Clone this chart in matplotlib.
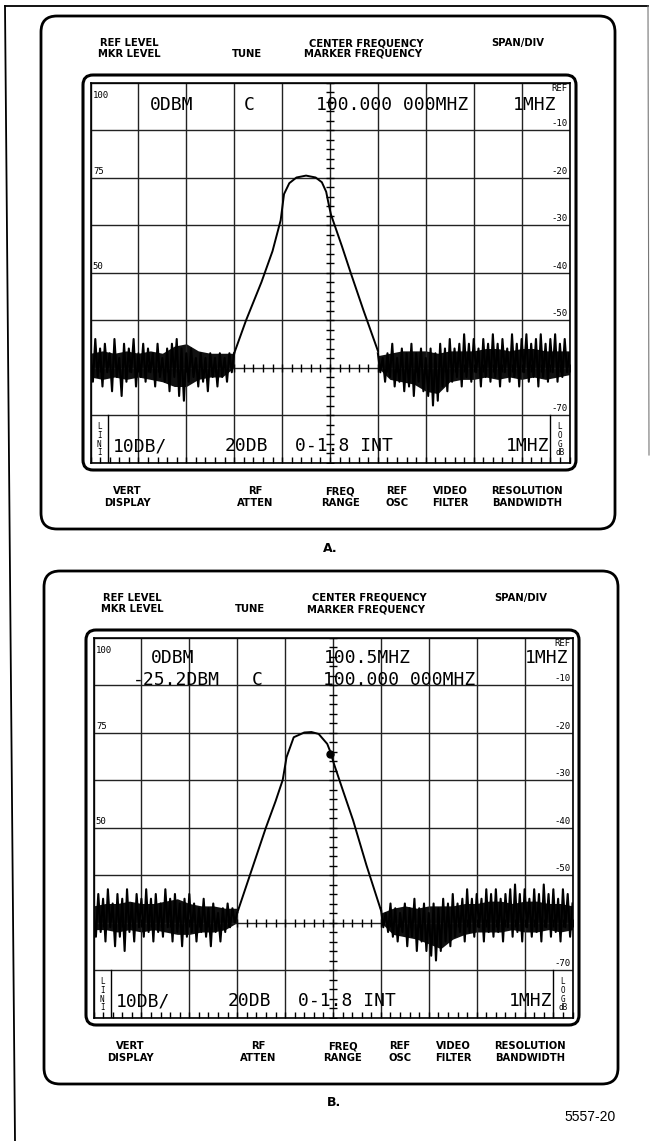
import numpy as np
import matplotlib
matplotlib.use("Agg")
import matplotlib.pyplot as plt
from matplotlib.patches import FancyBboxPatch

W, H = 653, 1141

# ---- trace data: x in graticule divisions (0..10), y in dB below ref (0..-80) ----
sig_x_a = [3.00, 3.25, 3.57, 3.80, 3.97, 4.04, 4.15, 4.30, 4.50, 4.70, 4.83, 4.92, 4.97, 5.02, 5.25, 5.43, 5.70, 6.00]
sig_db_a = [-57.0, -50.0, -42.0, -35.5, -29.0, -23.5, -21.2, -20.0, -19.6, -20.0, -21.0, -23.0, -25.5, -27.8, -34.5, -40.0, -48.0, -56.5]

sig_x_b = [3.00, 3.30, 3.60, 3.80, 3.95, 4.03, 4.18, 4.40, 4.55, 4.70, 4.88, 4.95, 5.02, 5.20, 5.42, 5.70, 6.00]
sig_db_b = [-58.0, -49.0, -40.0, -34.5, -30.0, -25.2, -21.0, -20.0, -19.9, -20.3, -22.4, -24.2, -26.6, -32.0, -38.5, -48.0, -57.4]

marker_b = (4.94, -24.5)

# noise spikes, 0.05 div apart
noise_l_a = [-57, -63, -54, -62, -56, -64, -55, -61, -57, -65, -54, -62, -58, -66, -55, -63, -56, -61, -54, -64,
             -57, -62, -55, -63, -56, -61, -57, -64, -55, -62, -58, -63, -56, -65, -55, -62, -54, -66, -56, -67,
             -57, -63, -56, -62, -58, -64, -57, -63, -58, -65, -57, -62, -58, -64, -57, -62, -58, -63, -57, -61, -57]
noise_r_a = [-57, -61, -58, -63, -57, -62, -55, -64, -58, -63, -56, -65, -57, -64, -55, -66, -57, -63, -56, -65,
             -58, -66, -56, -68, -57, -67, -55, -64, -56, -65, -54, -63, -56, -62, -55, -64, -53, -62, -55, -63,
             -54, -61, -56, -64, -54, -62, -55, -63, -53, -62, -55, -64, -54, -61, -56, -63, -53, -62, -55, -64,
             -54, -61, -53, -63, -55, -62, -54, -64, -53, -62, -55, -63, -54, -61, -53, -63, -55, -62, -54, -61, -57]
noise_l_b = [-58, -63, -54, -62, -55, -64, -53, -61, -56, -65, -54, -63, -55, -66, -53, -62, -56, -64, -54, -61,
             -55, -63, -53, -62, -55, -64, -54, -62, -56, -63, -53, -61, -55, -64, -54, -62, -56, -65, -55, -63,
             -54, -62, -56, -64, -57, -62, -55, -63, -57, -65, -56, -62, -58, -64, -57, -62, -56, -61, -57, -60, -58]
noise_r_b = [-57, -61, -58, -62, -56, -63, -57, -64, -58, -62, -56, -65, -57, -63, -55, -66, -57, -64, -56, -66,
             -58, -67, -56, -68, -57, -66, -55, -64, -56, -65, -54, -63, -56, -62, -55, -64, -53, -62, -55, -63,
             -54, -61, -55, -64, -53, -62, -54, -63, -53, -62, -55, -64, -54, -61, -53, -63, -52, -62, -54, -64,
             -53, -61, -55, -63, -53, -62, -54, -64, -52, -61, -54, -63, -53, -62, -55, -64, -53, -61, -54, -63, -56]

# dense core of the noise band, 0.25 div apart
core_top_l_a = [-57, -56.5, -57, -56.5, -57, -56.5, -57, -55.5, -55, -56.5, -57, -57, -57]
core_bot_l_a = [-62, -62.5, -62, -62.5, -62, -62.5, -63, -64, -64, -62.5, -62, -62, -60]
core_top_r_a = [-57.5, -57, -56.5, -56.5, -56.5, -57, -56.5, -56.5, -56.5, -56, -56, -56.5, -56, -56, -56.5, -56.5, -56.5]
core_bot_r_a = [-60, -62.5, -63, -63.5, -65, -65.5, -63, -62.5, -62.5, -62, -62.5, -62, -62.5, -62, -62.5, -62, -61.5]
core_top_l_b = [-56.5, -56, -56, -55.5, -56, -56, -55.5, -55, -56, -56.5, -56.5, -57, -57]
core_bot_l_b = [-61.5, -61.5, -62, -61.5, -62, -61.5, -62, -62.5, -62.5, -62, -62, -61.5, -60]
core_top_r_b = [-58, -57, -56.5, -57, -56.5, -56.5, -56.5, -56, -56, -55.5, -55.5, -56, -55.5, -55.5, -56, -56, -56.5]
core_bot_r_b = [-60, -62.5, -63, -63.5, -64.5, -65.5, -63.5, -62.5, -62, -62, -62, -61.5, -62, -62, -61.5, -62, -61.5]

left_scale = ["100", "75", "50"]
right_scale = ["-10", "-20", "-30", "-40", "-50", "-70"]

top_labels = ["REF LEVEL", "MKR LEVEL", "TUNE", "CENTER FREQUENCY", "MARKER FREQUENCY", "SPAN/DIV"]
bottom_labels = ["VERT\nDISPLAY", "RF\nATTEN", "FREQ\nRANGE", "REF\nOSC", "VIDEO\nFILTER", "RESOLUTION\nBANDWIDTH"]
row_a = ["0DBM", "C", "100.000 000MHZ", "1MHZ"]
row_b1 = ["0DBM", "100.5MHZ", "1MHZ"]
row_b2 = ["-25.2DBM", "C", "100.000 000MHZ"]
bottom_row = ["10DB/", "20DB", "0-1.8 INT", "1MHZ"]

MONO = "DejaVu Sans Mono"

fig = plt.figure(figsize=(W / 100, H / 100), dpi=100)
bg = fig.add_axes([0, 0, 1, 1])
bg.set_xlim(0, W)
bg.set_ylim(H, 0)
bg.axis("off")

# page frame
bg.plot([5, 15], [6, H], color="black", lw=1.3)
bg.plot([5, 648], [6, 6], color="black", lw=1.3)
bg.plot([648, 649], [6, 455], color="#777777", lw=0.8)


def panel(dy, dx, sig_x, sig_db, nl, nr, cores, rows, marker=None):
    # outer case
    bg.add_patch(FancyBboxPatch((41 + dx, 16 + dy), 574, 513,
                                boxstyle="round,pad=0,rounding_size=16",
                                fc="none", ec="black", lw=2.0))
    # crt bezel
    bg.add_patch(FancyBboxPatch((83 + dx, 75 + dy), 493, 395,
                                boxstyle="round,pad=0,rounding_size=10",
                                fc="none", ec="black", lw=2.2))
    lab_font = dict(fontsize=7.2, fontweight="bold", family="DejaVu Sans", ha="center", va="center")
    tx = [129, 129, 247, 366, 363, 518]
    ty = [43, 54, 54, 43, 54, 43]
    for t, x, y in zip(top_labels, tx, ty):
        bg.text(x + dx, y + dy, t, **lab_font)
    bx = [127, 255, 340, 397, 450, 527]
    for t, x in zip(bottom_labels, bx):
        bg.text(x + dx, 497 + dy, t, linespacing=1.15, **lab_font)

    ax = fig.add_axes([(90.5 + dx) / W, 1 - (462.5 + dy) / H, 479 / W, 380 / H])
    ax.set_xlim(0, 10)
    ax.set_ylim(-80, 0)
    ax.set_xticks(range(11))
    ax.set_yticks(range(-80, 1, 10))
    ax.grid(True, color="#222222", lw=1.0)
    ax.tick_params(length=0, labelbottom=False, labelleft=False)
    for s in ax.spines.values():
        s.set_linewidth(1.2)

    # minor graticule ticks
    yt = np.arange(-80, 0.1, 2)
    ax.plot([5] * len(yt), yt, ls="none", marker="_", ms=6, mew=1.0, color="black")
    xt = np.arange(0, 10.01, 0.2)
    ax.plot(xt, [-60] * len(xt), ls="none", marker="|", ms=6, mew=1.0, color="black")
    ax.plot(xt, [-80] * len(xt), ls="none", marker=2, ms=4, mew=1.0, color="black", clip_on=False)

    # bottom row boxes
    ax.plot([0.36, 0.36], [-80, -70], color="black", lw=1.0)
    ax.plot([9.6, 9.6], [-80, -70], color="black", lw=1.0)
    ax.text(0.18, -75.2, "L\nI\nN\nI", fontsize=5.5, family=MONO, ha="center", va="center", linespacing=0.95)
    ax.text(9.8, -75.2, "L\nO\nG\ndB", fontsize=5.5, family=MONO, ha="center", va="center", linespacing=0.95)

    # scale annotations
    for t, yv in zip(left_scale, [0, -20, -40]):
        ax.text(0.05, yv - (1.8 if yv == 0 else -0.3), t, fontsize=6.5, family=MONO,
                ha="left", va="top" if yv == 0 else "bottom")
    ax.text(9.95, -0.3, "REF", fontsize=6.5, family=MONO, ha="right", va="top")
    for t in right_scale:
        ax.text(9.95, float(t) + 0.4, t, fontsize=6.5, family=MONO, ha="right", va="bottom")

    # trace: dense core + spikes + signal
    tl, bl, tr, br = cores
    ax.fill_between(np.linspace(0, 3, len(tl)), tl, bl, color="#111111", lw=0)
    ax.fill_between(np.linspace(6, 10, len(tr)), tr, br, color="#111111", lw=0)
    ax.plot(np.linspace(0, 3, len(nl)), nl, color="black", lw=1.5)
    ax.plot(np.linspace(6, 10, len(nr)), nr, color="black", lw=1.5)
    ax.plot(sig_x, sig_db, color="black", lw=1.4)
    if marker is not None:
        ax.plot(*marker, marker="o", ms=5, color="black")

    txt = dict(fontsize=13, family=MONO, va="center", ha="left")
    for t, x, y in rows:
        ax.text(x, y, t, **txt)
    bxs = [0.47, 2.81, 4.27, 8.67]
    for t, x in zip(bottom_row, bxs):
        ax.text(x, -76.6, t, **txt)
    return ax


panel(0, 0, sig_x_a, sig_db_a, noise_l_a, noise_r_a,
      (core_top_l_a, core_bot_l_a, core_top_r_a, core_bot_r_a),
      list(zip(row_a, [1.24, 3.2, 4.71, 8.82], [-4.7] * 4)))
panel(555, 3, sig_x_b, sig_db_b, noise_l_b, noise_r_b,
      (core_top_l_b, core_bot_l_b, core_top_r_b, core_bot_r_b),
      list(zip(row_b1, [1.2, 4.8, 9.0], [-4.4] * 3)) +
      list(zip(row_b2, [0.82, 3.3, 4.8], [-9.0] * 3)),
      marker=marker_b)

bg.text(330, 549, "A.", fontsize=9, fontweight="bold", ha="center", va="center")
bg.text(334, 1102, "B.", fontsize=9, fontweight="bold", ha="center", va="center")
bg.text(590, 1117, "5557-20", fontsize=10, family="Liberation Sans", ha="center", va="center")

fig.savefig("out.png", dpi=100)
